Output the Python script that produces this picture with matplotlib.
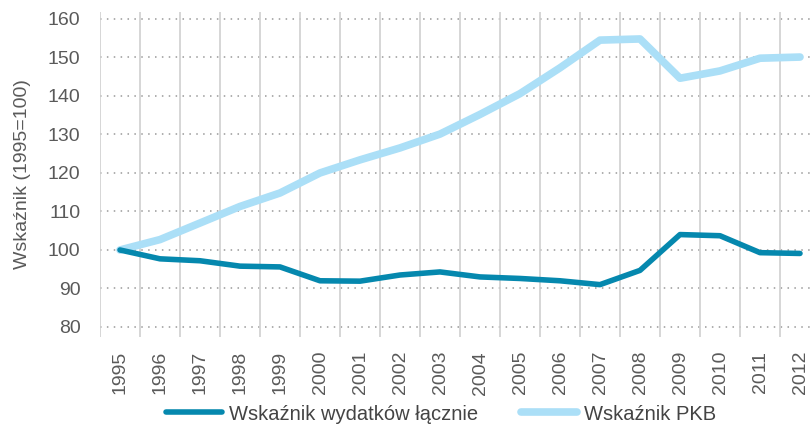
import matplotlib
matplotlib.use("Agg")
import matplotlib.pyplot as plt
from matplotlib.lines import Line2D

years = ["1995", "1996", "1997", "1998", "1999", "2000", "2001", "2002", "2003",
         "2004", "2005", "2006", "2007", "2008", "2009", "2010", "2011", "2012"]
wydatki = [100.0, 97.7, 97.2, 95.8, 95.6, 92.0, 91.9, 93.5, 94.3,
           93.0, 92.6, 92.0, 91.0, 94.7, 104.0, 103.7, 99.3, 99.1]
pkb = [100.0, 102.7, 107.0, 111.3, 114.8, 120.0, 123.4, 126.5, 130.1,
       135.2, 140.6, 147.3, 154.5, 154.8, 144.6, 146.5, 149.8, 150.1]
yticks = [80, 90, 100, 110, 120, 130, 140, 150, 160]

plt.rcParams['font.family'] = ['Liberation Sans', 'DejaVu Sans']
txt = '#5a5a5a'

fig = plt.figure(figsize=(8.11, 4.30), dpi=100)
ax = fig.add_axes([100/811, 1-337/430, (820-100)/811, (337-12)/430])

x = list(range(len(years)))
ax.plot(x, pkb, color='#abdff7', lw=5.5, solid_capstyle='round', zorder=3)
ax.plot(x, wydatki, color='#0588ae', lw=4, solid_capstyle='round', zorder=4)

ax.set_xlim(-0.5, 17.5)
ax.set_ylim(77.4, 161.8)
ax.set_yticks(yticks)
ax.set_xticks(x)
ax.set_xticklabels(years, rotation=90, color=txt, fontsize=14)
ax.set_yticklabels([str(v) for v in yticks], color=txt, fontsize=14)
ax.tick_params(axis='both', length=0)
ax.tick_params(axis='y', pad=14)
ax.tick_params(axis='x', pad=10)

for v in yticks:
    ax.axhline(v, color='#999999', lw=1.1, ls=(0, (1, 3.5)), zorder=1)
for i in range(len(years)):
    ax.axvline(i - 0.5, color='#d0d0d0', lw=1.2, zorder=1)
for s in ax.spines.values():
    s.set_visible(False)

ax.set_ylabel('Wskaźnik (1995=100)', color=txt, fontsize=14, labelpad=12)

handles = [Line2D([], [], color='#0588ae', lw=4, solid_capstyle='round'),
           Line2D([], [], color='#abdff7', lw=5.5, solid_capstyle='round')]
fig.legend(handles, ['Wskaźnik wydatków łącznie', 'Wskaźnik PKB'],
           loc='center', bbox_to_anchor=(441/811, 1-414/430), ncol=2, frameon=False,
           handlelength=2.8, handletextpad=0.35, columnspacing=2.1,
           prop={'size': 14.5}, labelcolor='#444444')

fig.savefig('out.png', dpi=100)
